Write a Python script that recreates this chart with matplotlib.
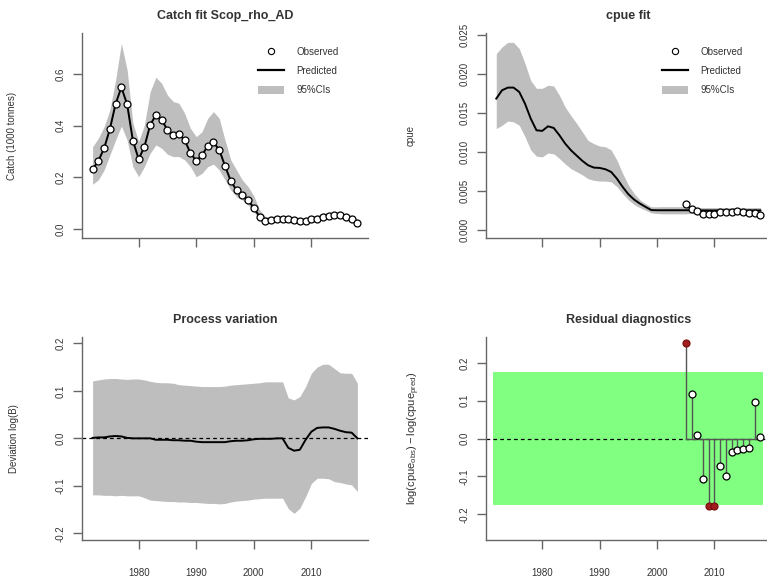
import numpy as np
import matplotlib
matplotlib.use("Agg")
import matplotlib.pyplot as plt
from matplotlib.lines import Line2D
from matplotlib.patches import Patch

plt.rcParams['font.family'] = ['Liberation Sans', 'DejaVu Sans']
plt.rcParams['mathtext.fontset'] = 'custom'
plt.rcParams['mathtext.rm'] = 'Liberation Sans'
plt.rcParams['mathtext.it'] = 'Liberation Sans'

# ---------------- data ----------------
years = list(range(1972, 2019))

catch_obs = [0.231, 0.263, 0.312, 0.386, 0.484, 0.548, 0.482, 0.342, 0.270, 0.318,
             0.402, 0.441, 0.422, 0.383, 0.364, 0.366, 0.344, 0.293, 0.264, 0.285,
             0.321, 0.335, 0.306, 0.244, 0.186, 0.150, 0.130, 0.111, 0.082, 0.048,
             0.031, 0.034, 0.039, 0.039, 0.037, 0.034, 0.031, 0.031, 0.037, 0.040,
             0.048, 0.051, 0.054, 0.054, 0.045, 0.039, 0.024]
catch_pred = [0.231, 0.263, 0.312, 0.386, 0.484, 0.548, 0.482, 0.342, 0.270, 0.318,
              0.402, 0.441, 0.422, 0.383, 0.364, 0.366, 0.344, 0.293, 0.264, 0.285,
              0.321, 0.335, 0.306, 0.244, 0.186, 0.150, 0.130, 0.111, 0.082, 0.048,
              0.031, 0.034, 0.039, 0.039, 0.037, 0.034, 0.031, 0.031, 0.037, 0.040,
              0.048, 0.051, 0.054, 0.054, 0.045, 0.039, 0.024]
catch_hi = [0.318, 0.351, 0.396, 0.460, 0.576, 0.718, 0.615, 0.409, 0.338, 0.402,
            0.531, 0.587, 0.563, 0.518, 0.493, 0.486, 0.447, 0.389, 0.357, 0.376,
            0.428, 0.454, 0.428, 0.344, 0.267, 0.228, 0.190, 0.164, 0.128, 0.074,
            0.048, 0.047, 0.052, 0.052, 0.050, 0.047, 0.044, 0.044, 0.050, 0.053,
            0.061, 0.064, 0.067, 0.067, 0.058, 0.052, 0.036]
catch_lo = [0.173, 0.190, 0.228, 0.286, 0.344, 0.398, 0.344, 0.241, 0.202, 0.241,
            0.293, 0.325, 0.312, 0.289, 0.280, 0.280, 0.267, 0.241, 0.202, 0.215,
            0.241, 0.251, 0.228, 0.190, 0.151, 0.125, 0.112, 0.093, 0.067, 0.035,
            0.019, 0.022, 0.027, 0.027, 0.025, 0.022, 0.019, 0.019, 0.025, 0.028,
            0.036, 0.039, 0.042, 0.042, 0.033, 0.027, 0.014]

cpue_pred = [0.01688, 0.01795, 0.01829, 0.01830, 0.01774, 0.01624, 0.01432, 0.01282,
             0.01274, 0.01333, 0.01312, 0.01218, 0.01111, 0.01026, 0.00957, 0.00889,
             0.00833, 0.00803, 0.00799, 0.00782, 0.00748, 0.00662, 0.00556, 0.00462,
             0.00393, 0.00342, 0.00299, 0.00258, 0.00256, 0.00256, 0.00256, 0.00256,
             0.00256, 0.00256, 0.00256, 0.00255, 0.00254, 0.00254, 0.00254, 0.00254,
             0.00254, 0.00254, 0.00254, 0.00254, 0.00254, 0.00254, 0.00254]
cpue_hi = [0.02265, 0.02350, 0.02410, 0.02410, 0.02330, 0.02140, 0.01920, 0.01820,
           0.01820, 0.01860, 0.01850, 0.01730, 0.01580, 0.01470, 0.01370, 0.01260,
           0.01150, 0.01110, 0.01080, 0.01070, 0.01030, 0.00900, 0.00730, 0.00580,
           0.00470, 0.00390, 0.00340, 0.00300, 0.00300, 0.00302, 0.00302, 0.00302,
           0.00302, 0.00302, 0.00296, 0.00292, 0.00290, 0.00290, 0.00290, 0.00290,
           0.00290, 0.00290, 0.00290, 0.00290, 0.00290, 0.00290, 0.00292]
cpue_lo = [0.01303, 0.01346, 0.01400, 0.01390, 0.01346, 0.01200, 0.01030, 0.00950,
           0.00940, 0.00990, 0.00980, 0.00920, 0.00850, 0.00790, 0.00750, 0.00710,
           0.00660, 0.00640, 0.00630, 0.00630, 0.00620, 0.00560, 0.00470, 0.00390,
           0.00330, 0.00290, 0.00256, 0.00222, 0.00214, 0.00210, 0.00210, 0.00210,
           0.00210, 0.00210, 0.00216, 0.00218, 0.00218, 0.00218, 0.00218, 0.00218,
           0.00218, 0.00218, 0.00218, 0.00218, 0.00218, 0.00218, 0.00216]

obs_years = list(range(2005, 2019))
cpue_obs = [0.00333, 0.00278, 0.00244, 0.00209, 0.00209, 0.00209, 0.00231,
            0.00235, 0.00239, 0.00248, 0.00239, 0.00222, 0.00226, 0.00192]

proc_mean = [0.001, 0.002, 0.002, 0.004, 0.005, 0.004, 0.001, 0.000, 0.000, 0.000,
             0.000, -0.003, -0.003, -0.003, -0.004, -0.004, -0.005, -0.005, -0.007, -0.008,
             -0.008, -0.008, -0.008, -0.008, -0.006, -0.005, -0.005, -0.004, -0.002, -0.001,
             -0.001, -0.001, 0.000, 0.000, -0.020, -0.026, -0.024, -0.003, 0.014, 0.022,
             0.023, 0.023, 0.020, 0.016, 0.013, 0.012, 0.000]
proc_hi = [0.121, 0.123, 0.125, 0.126, 0.126, 0.125, 0.124, 0.125, 0.125, 0.123,
           0.120, 0.118, 0.117, 0.117, 0.116, 0.113, 0.112, 0.111, 0.110, 0.109,
           0.109, 0.109, 0.109, 0.110, 0.112, 0.113, 0.114, 0.115, 0.116, 0.117,
           0.119, 0.119, 0.119, 0.119, 0.085, 0.081, 0.088, 0.109, 0.137, 0.150,
           0.156, 0.156, 0.147, 0.138, 0.137, 0.137, 0.116]
proc_lo = [-0.119, -0.119, -0.120, -0.120, -0.121, -0.120, -0.121, -0.121, -0.121, -0.125,
           -0.130, -0.131, -0.132, -0.133, -0.133, -0.134, -0.134, -0.135, -0.135, -0.136,
           -0.137, -0.137, -0.138, -0.137, -0.134, -0.132, -0.131, -0.130, -0.128, -0.127,
           -0.126, -0.126, -0.126, -0.126, -0.148, -0.158, -0.147, -0.123, -0.095, -0.084,
           -0.084, -0.085, -0.091, -0.093, -0.096, -0.098, -0.112]

resid = [0.253, 0.117, 0.0095, -0.108, -0.178, -0.178, -0.072,
         -0.098, -0.035, -0.029, -0.028, -0.025, 0.096, 0.004]
resid_band = 0.175

xticks = [1980, 1990, 2000, 2010]

# ---------------- styling ----------------
W, H = 767, 578
TXT = '#333333'
AXC = '#666666'
GREY = '#BEBEBE'
fig = plt.figure(figsize=(W / 100, H / 100), dpi=100)


def make_ax(left, top, right, bottom):
    return fig.add_axes([left / W, 1 - bottom / H, (right - left) / W, (bottom - top) / H])


def style(ax, xlabels=True):
    for s in ('top', 'right'):
        ax.spines[s].set_visible(False)
    for s in ('left', 'bottom'):
        ax.spines[s].set_color(AXC)
        ax.spines[s].set_linewidth(1.0)
    ax.set_xlim(1970.16, 2019.84)
    ax.set_xticks(xticks)
    ax.tick_params(axis='both', length=6.8, width=1.0, color=AXC, labelcolor=TXT,
                   labelsize=7)
    ax.tick_params(axis='x', pad=13)
    ax.tick_params(axis='y', pad=5)
    if not xlabels:
        ax.set_xticklabels([])
    for t in ax.get_yticklabels():
        t.set_rotation(90)
        t.set_va('center')


def legend(ax, x0, y0):
    handles = [Line2D([], [], ls='none', marker='o', mfc='white', mec='black', ms=4.5, mew=0.8),
               Line2D([], [], color='black', lw=1.6),
               Patch(facecolor=GREY, edgecolor='none')]
    ax.legend(handles, ['Observed', 'Predicted', '95%CIs'], loc='upper left',
              bbox_to_anchor=(x0 / W, 1 - y0 / H), bbox_transform=fig.transFigure,
              frameon=False, fontsize=7, handlelength=2.7, handletextpad=1.25,
              labelspacing=0.95, borderpad=0, borderaxespad=0, labelcolor=TXT,
              handleheight=1.0)


# ---- catch ----
ax1 = make_ax(82, 33, 368, 238)
ax1.fill_between(years, catch_lo, catch_hi, color=GREY, lw=0)
ax1.plot(years, catch_pred, color='black', lw=1.4)
ax1.plot(years, catch_obs, ls='none', marker='o', mfc='white', mec='black', ms=5, mew=0.9)
ax1.set_ylim(-0.035, 0.758)
ax1.set_yticks([0.0, 0.2, 0.4, 0.6])
ax1.set_yticklabels(['0.0', '0.2', '0.4', '0.6'])
style(ax1, xlabels=False)
ax1.set_title('Catch fit Scop_rho_AD', fontsize=9, fontweight='bold', color=TXT, pad=10)
ax1.set_ylabel('Catch (1000 tonnes)', fontsize=7, color=TXT)
ax1.yaxis.set_label_coords(-0.227, 0.5)
legend(ax1, 258, 47)

# ---- cpue ----
ax2 = make_ax(485.7, 33, 771, 238)
ax2.fill_between(years, cpue_lo, cpue_hi, color=GREY, lw=0)
ax2.plot(years, cpue_pred, color='black', lw=1.4)
ax2.plot(obs_years, cpue_obs, ls='none', marker='o', mfc='white', mec='black', ms=5, mew=0.9)
ax2.set_ylim(-0.001, 0.0253)
ax2.set_yticks([0.0, 0.005, 0.010, 0.015, 0.020, 0.025])
ax2.set_yticklabels(['0.000', '0.005', '0.010', '0.015', '0.020', '0.025'])
style(ax2, xlabels=False)
ax2.set_title('cpue fit', fontsize=9, fontweight='bold', color=TXT, pad=10)
ax2.set_ylabel('cpue', fontsize=7, color=TXT)
ax2.yaxis.set_label_coords(-0.245, 0.5)
legend(ax2, 662, 47)

# ---- process variation ----
ax3 = make_ax(82, 336.7, 368, 540)
ax3.fill_between(years, proc_lo, proc_hi, color=GREY, lw=0)
ax3.plot(years, proc_mean, color='black', lw=1.4)
ax3.axhline(0, color='black', lw=0.9, ls=(0, (3, 2.5)))
ax3.set_ylim(-0.214, 0.214)
ax3.set_yticks([-0.2, -0.1, 0.0, 0.1, 0.2])
ax3.set_yticklabels(['-0.2', '-0.1', '0.0', '0.1', '0.2'])
style(ax3)
ax3.set_title('Process variation', fontsize=9, fontweight='bold', color=TXT, pad=10)
ax3.set_ylabel('Deviation log(B)', fontsize=7, color=TXT)
ax3.yaxis.set_label_coords(-0.22, 0.5)

# ---- residual diagnostics ----
ax4 = make_ax(485.7, 336.7, 771, 540)
ax4.fill_between([1971.5, 2018.5], [-resid_band] * 2, [resid_band] * 2,
                 color='#80FF80', lw=0)
ax4.axhline(0, color='black', lw=0.9, ls=(0, (3, 2.5)))
ax4.vlines(obs_years, 0, resid, color='#555555', lw=1.0)
ax4.plot([obs_years[0], obs_years[-1]], [0, 0], color='#555555', lw=1.0)
flag = [abs(r) > resid_band for r in resid]
ax4.plot([y for y, f in zip(obs_years, flag) if not f],
         [r for r, f in zip(resid, flag) if not f],
         ls='none', marker='o', mfc='white', mec='black', ms=5, mew=0.9)
ax4.plot([y for y, f in zip(obs_years, flag) if f],
         [r for r, f in zip(resid, flag) if f],
         ls='none', marker='o', mfc='#A31F1F', mec='#7A1010', ms=5, mew=0.9)
ax4.set_ylim(-0.268, 0.269)
ax4.set_yticks([-0.2, -0.1, 0.0, 0.1, 0.2])
ax4.set_yticklabels(['-0.2', '-0.1', '0.0', '0.1', '0.2'])
style(ax4)
ax4.set_title('Residual diagnostics', fontsize=9, fontweight='bold', color=TXT, pad=10)
ax4.set_ylabel(r'$\log(\mathrm{cpue}_{\mathrm{obs}})-\log(\mathrm{cpue}_{\mathrm{pred}})$',
               fontsize=8, color=TXT)
ax4.yaxis.set_label_coords(-0.224, 0.5)

fig.savefig('out.png', dpi=100)
